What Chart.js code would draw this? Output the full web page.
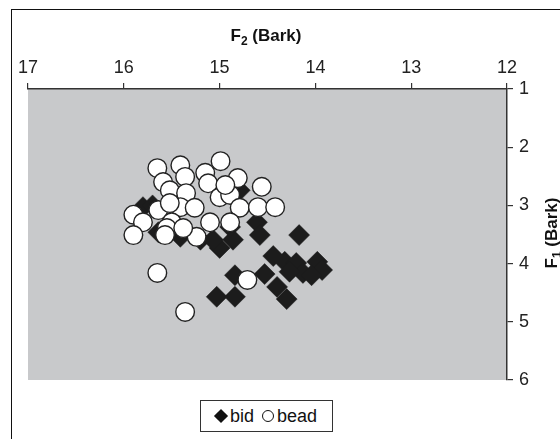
<!DOCTYPE html>
<html>
<head>
<meta charset="utf-8">
<script src="https://cdn.jsdelivr.net/npm/chart.js@4/dist/chart.umd.min.js"></script>
<style>
  html, body { margin: 0; padding: 0; background: #fff; }
  #wrap { position: relative; width: 560px; height: 439px; overflow: hidden; font-family: "Liberation Sans", Arial, sans-serif; }
  #frame { position: absolute; left: 11px; top: 9px; width: 600px; height: 500px; border-left: 1.5px solid #111; border-top: 1.5px solid #111; }
  #plot { position: absolute; left: 0; top: 0; }
  #legend { position: absolute; left: 200px; top: 400px; width: 133px; height: 32px; border: 1px solid #333; background: #fff;
            display: flex; align-items: center; justify-content: center; font-size: 18px; color: #111; box-sizing: border-box; }
  .dia { width: 10px; height: 10px; background: #111; transform: rotate(45deg); margin-right: 4px; }
  .cir { width: 12px; height: 12px; border: 1.3px solid #111; border-radius: 50%; margin-left: 8px; margin-right: 3px; box-sizing: border-box; }
</style>
</head>
<body>
<div id="wrap">
  <div id="frame"></div>
  <canvas id="plot" width="560" height="439"></canvas>
  <div id="legend"><span class="dia"></span><span>bid</span><span class="cir"></span><span>bead</span></div>
</div>
<script>
// F2 (Bark) on x, F1 (Bark) on y, one point per token
const bidF2 = [15.80, 15.70, 14.79, 14.61, 14.58, 14.17, 15.00, 14.86, 14.44, 14.32,
               14.20, 13.98, 13.93, 14.13, 14.27, 14.53, 14.84, 14.40, 14.30, 15.03,
               14.84, 15.41, 15.20, 15.07, 15.64, 14.89, 14.04];
const bidF1 = [3.03, 3.00, 2.74, 3.29, 3.51, 3.51, 3.73, 3.59, 3.87, 3.97,
               3.99, 3.97, 4.11, 4.16, 4.14, 4.18, 4.20, 4.40, 4.61, 4.57,
               4.57, 3.54, 3.59, 3.59, 3.46, 3.37, 4.20];

const beadF2 = [15.65, 15.41, 14.99, 15.36, 15.15, 14.81, 14.56, 15.59, 15.52, 15.35,
                15.12, 15.00, 14.89, 15.64, 15.41, 15.26, 14.79, 14.60, 14.42, 15.52,
                15.90, 15.80, 15.50, 15.55, 15.10, 14.89, 15.90, 15.57, 15.24, 15.38,
                14.94, 15.65, 15.36, 14.71];
const beadF1 = [2.36, 2.31, 2.24, 2.51, 2.44, 2.53, 2.68, 2.60, 2.74, 2.79,
                2.62, 2.86, 2.82, 3.08, 3.03, 3.04, 3.04, 3.03, 3.03, 2.96,
                3.16, 3.29, 3.29, 3.39, 3.29, 3.29, 3.51, 3.51, 3.54, 3.39,
                2.65, 4.16, 4.83, 4.28];

const xTicks = [17, 16, 15, 14, 13, 12];
const yTicks = [1, 2, 3, 4, 5, 6];

const toPoints = (xs, ys) => xs.map((x, i) => ({ x, y: ys[i] }));

const FONT = '"Liberation Sans", Arial, sans-serif';

// grey plotting area
const plotBackground = {
  id: 'plotBackground',
  beforeDraw(chart) {
    const { ctx, chartArea: a } = chart;
    ctx.save();
    ctx.fillStyle = '#c8c9cb';
    ctx.fillRect(a.left, a.top, a.right - a.left, a.bottom - a.top);
    ctx.restore();
  }
};

// axis titles with subscripted formant number
function drawSubTitle(ctx, main, sub, rest, cx, cy) {
  const big = 'bold 17px ' + FONT;
  const small = 'bold 12px ' + FONT;
  ctx.font = big; const w1 = ctx.measureText(main).width;
  ctx.font = small; const w2 = ctx.measureText(sub).width;
  ctx.font = big; const w3 = ctx.measureText(rest).width;
  let x = cx - (w1 + w2 + w3) / 2;
  ctx.textBaseline = 'alphabetic';
  ctx.textAlign = 'left';
  ctx.font = big; ctx.fillText(main, x, cy); x += w1;
  ctx.font = small; ctx.fillText(sub, x, cy + 4); x += w2;
  ctx.font = big; ctx.fillText(rest, x, cy);
}
const axisTitles = {
  id: 'axisTitles',
  afterDraw(chart) {
    const { ctx } = chart;
    ctx.save();
    ctx.fillStyle = '#111';
    drawSubTitle(ctx, 'F', '2', ' (Bark)', 266, 41);
    ctx.translate(551, 233);
    ctx.rotate(-Math.PI / 2);
    drawSubTitle(ctx, 'F', '1', ' (Bark)', 0, 6);
    ctx.restore();
  }
};

new Chart(document.getElementById('plot'), {
  type: 'scatter',
  data: {
    datasets: [
      {
        label: 'bead',
        data: toPoints(beadF2, beadF1),
        pointStyle: 'circle',
        pointRadius: 9.3,
        backgroundColor: '#ffffff',
        borderColor: '#222222',
        borderWidth: 1.4,
        order: 0
      },
      {
        label: 'bid',
        data: toPoints(bidF2, bidF1),
        pointStyle: 'rectRot',
        pointRadius: 10.5,
        backgroundColor: '#1c1c1c',
        borderColor: '#1c1c1c',
        borderWidth: 0.5,
        order: 1
      }
    ]
  },
  options: {
    responsive: false,
    animation: false,
    events: [],
    layout: { padding: { left: 28, right: 0, top: 0, bottom: 59 } },
    plugins: { legend: { display: false }, tooltip: { enabled: false } },
    scales: {
      x: {
        type: 'linear',
        position: 'top',
        reverse: true,
        min: 12, max: 17,
        afterBuildTicks(scale) { scale.ticks = xTicks.map(v => ({ value: v })); },
        afterFit(scale) { scale.height = 89; },
        grid: { drawOnChartArea: false, drawTicks: true, tickLength: 6, color: '#333', lineWidth: 1.2 },
        border: { display: true, color: '#333', width: 1.5 },
        ticks: { color: '#222', font: { family: FONT, size: 18 }, padding: 4, maxRotation: 0 }
      },
      y: {
        type: 'linear',
        position: 'right',
        reverse: true,
        min: 1, max: 6,
        afterBuildTicks(scale) { scale.ticks = yTicks.map(v => ({ value: v })); },
        afterFit(scale) { scale.width = 53; },
        grid: { drawOnChartArea: false, drawTicks: true, tickLength: 6, color: '#333', lineWidth: 1.2 },
        border: { display: true, color: '#333', width: 1.5 },
        ticks: { color: '#222', font: { family: FONT, size: 18 }, padding: 6 }
      }
    }
  },
  plugins: [plotBackground, axisTitles]
});
</script>
</body>
</html>
